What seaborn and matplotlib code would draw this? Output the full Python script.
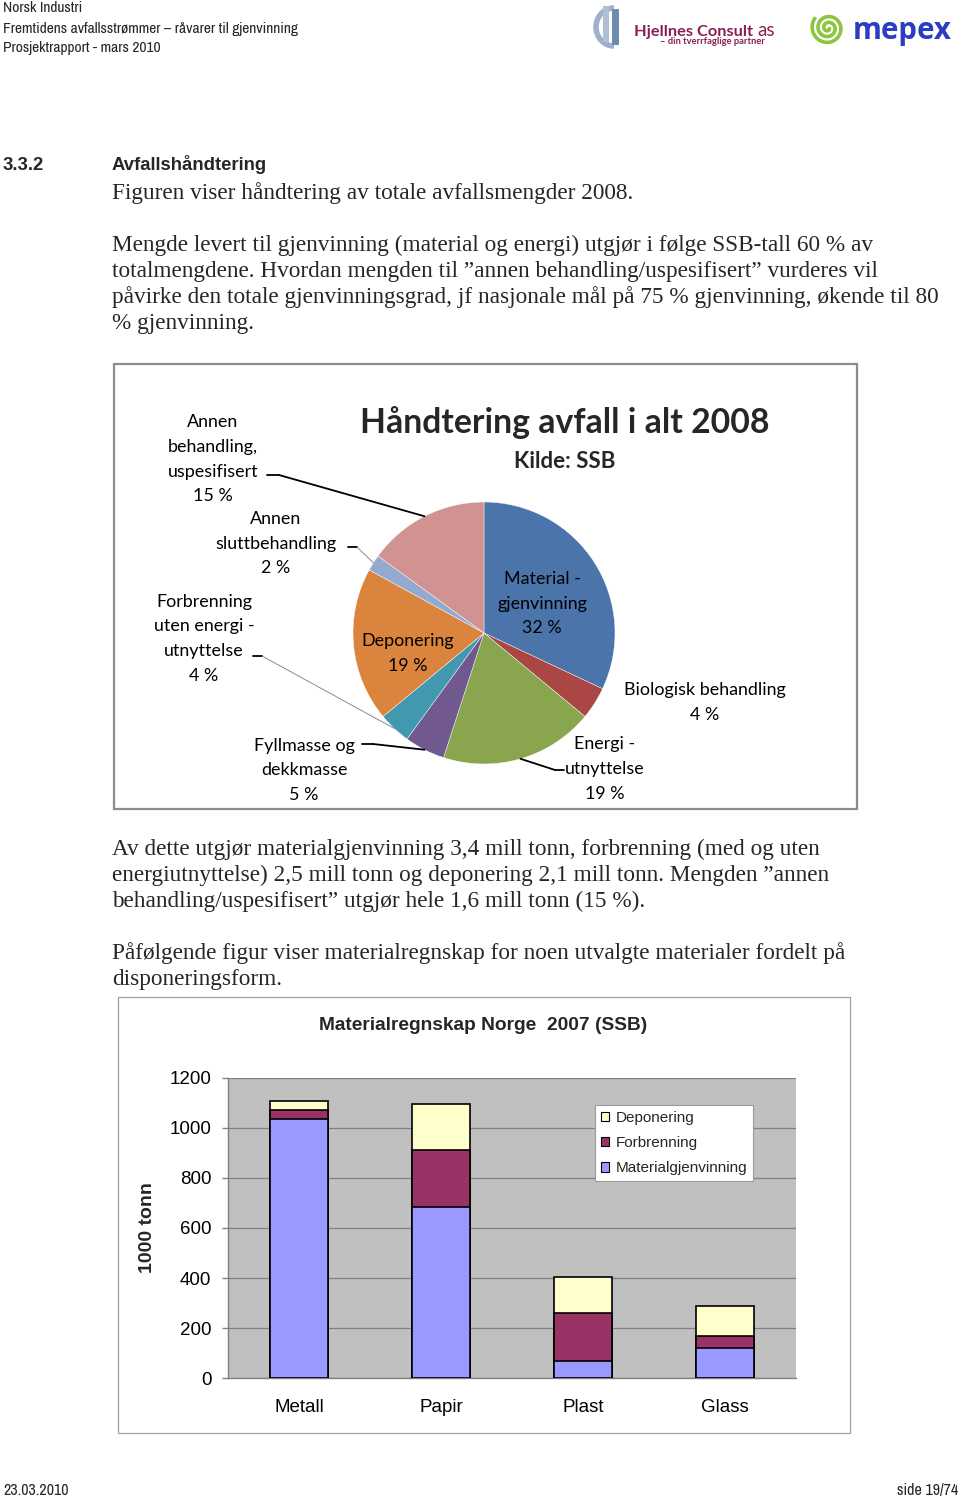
import matplotlib
matplotlib.use("Agg")
import matplotlib.pyplot as plt
from matplotlib import font_manager
from matplotlib.font_manager import FontProperties
from matplotlib.patches import Rectangle, Patch, Arc
import numpy as np
import pandas as pd
import seaborn as sns

# ---------------- data ----------------
header_lines = ["Norsk Industri",
                "Fremtidens avfallsstrømmer – råvarer til gjenvinning",
                "Prosjektrapport - mars 2010"]
section_no = "3.3.2"
section_title = "Avfallshåndtering"
body_top = ["Figuren viser håndtering av totale avfallsmengder 2008.",
            "",
            "Mengde levert til gjenvinning (material og energi) utgjør i følge SSB-tall 60 % av",
            "totalmengdene. Hvordan mengden til ”annen behandling/uspesifisert” vurderes vil",
            "påvirke den totale gjenvinningsgrad, jf nasjonale mål på 75 % gjenvinning, økende til 80",
            "% gjenvinning."]
body_mid = ["Av dette utgjør materialgjenvinning 3,4 mill tonn, forbrenning (med og uten",
            "energiutnyttelse) 2,5 mill tonn og deponering 2,1 mill tonn. Mengden ”annen",
            "behandling/uspesifisert” utgjør hele 1,6 mill tonn (15 %).",
            "",
            "Påfølgende figur viser materialregnskap for noen utvalgte materialer fordelt på",
            "disponeringsform."]
footer_left = "23.03.2010"
footer_right = "side 19/74"

pie_title = "Håndtering avfall i alt 2008"
pie_subtitle = "Kilde: SSB"
pie_labels = ["Material -\ngjenvinning", "Biologisk behandling", "Energi -\nutnyttelse",
              "Fyllmasse og\ndekkmasse", "Forbrenning\nuten energi -\nutnyttelse",
              "Deponering", "Annen\nsluttbehandling", "Annen\nbehandling,\nuspesifisert"]
pie_pct = [32, 4, 19, 5, 4, 19, 2, 15]
pie_colors = ["#4A74AA", "#AA4643", "#89A54E", "#71588F",
              "#4198AF", "#DB843D", "#93A9CF", "#D19392"]

bar_title = "Materialregnskap Norge  2007 (SSB)"
bar_ylabel = "1000 tonn"
materials = ["Metall", "Papir", "Plast", "Glass"]
materialgjenvinning = [1034, 683, 69, 120]
forbrenning = [39, 230, 190, 49]
deponering = [35, 183, 145, 121]
series_names = ["Deponering", "Forbrenning", "Materialgjenvinning"]
series_colors = {"Deponering": "#FFFFCC", "Forbrenning": "#993366",
                 "Materialgjenvinning": "#9999FF"}
yticks = [0, 200, 400, 600, 800, 1000, 1200]

# ---------------- setup ----------------
W, H = 960, 1498
sns.set_style("white")
plt.rcParams["font.family"] = ["Liberation Sans", "DejaVu Sans"]

fig = plt.figure(figsize=(W / 100, H / 100), dpi=100)
fig.patch.set_facecolor("white")
page = fig.add_axes([0, 0, 1, 1], zorder=5)
page.set_xlim(0, W)
page.set_ylim(H, 0)
page.axis("off")
page.patch.set_visible(False)
renderer = fig.canvas.get_renderer()

names = {f.name for f in font_manager.fontManager.ttflist}
SERIF = "Liberation Serif"
CAL = "Lato" if "Lato" in names else "DejaVu Sans"
SANS = "Liberation Sans"


def _weight(f):
    w = f.weight
    if isinstance(w, str):
        w = font_manager.weight_dict.get(w, 400)
    return w


def find_narrow():
    cands = []
    for f in font_manager.fontManager.ttflist:
        nm = f.name
        base = f.fname.split("/")[-1]
        tag = nm + " " + base
        if any(k in tag for k in ("Extra", "Ultra", "Serif", "Mono", "Italic", "Oblique")):
            continue
        if str(f.stretch) in ("extra-condensed", "ultra-condensed"):
            continue
        narrow = ("Narrow" in tag) or ("Condensed" in tag) or \
                 (str(f.stretch) in ("condensed", "semi-condensed"))
        if not narrow or f.style != "normal":
            continue
        if not (350 <= _weight(f) <= 450):
            continue
        if "Liberation" in tag:
            rank = 0
        elif "Narrow" in tag:
            rank = 1
        elif "Semi" in tag:
            rank = 3
        else:
            rank = 2
        cands.append((rank, f.fname))
    cands.sort()
    return cands[0][1] if cands else None


NARROW_REG = find_narrow()


def narrow_fp(size):
    if NARROW_REG:
        return FontProperties(fname=NARROW_REG, size=size)
    return FontProperties(family=SANS, size=size)


def width_px(s, fp):
    t = fig.text(0, 0, s, fontproperties=fp)
    w = t.get_window_extent(renderer).width
    t.remove()
    return w


def fit(s, target, **kw):
    fp = FontProperties(size=20, **kw)
    return 20 * target / width_px(s, fp)


def fit_narrow(s, target, fallback_size, max_size):
    if not NARROW_REG:
        return fallback_size
    return min(20 * target / width_px(s, narrow_fp(20)), max_size)


# ---------------- header ----------------
hsize = fit_narrow(header_lines[1], 308, 10.7, 11.2)
for s, yb in zip(header_lines, [12.5, 33.3, 52.3]):
    page.text(3, yb, s, fontproperties=narrow_fp(hsize), va="baseline", ha="left")

# Hjellnes Consult logo
page.add_patch(Arc((614, 27), 36, 38, theta1=90, theta2=270, lw=4, color="#9FB1C8"))
page.add_patch(Rectangle((603, 6), 6, 36, color="#AFC0D4", lw=0))
page.add_patch(Rectangle((612, 9), 7, 36, color="#6C8CB2", lw=0))
hjs = fit("Hjellnes Consult", 119, family=CAL, weight="bold")
page.text(634, 36, "Hjellnes Consult", family=CAL, weight="bold", fontsize=hjs,
          color="#8A1F55", va="baseline")
page.text(757, 36, "as", family=CAL, fontsize=hjs * 1.15, color="#8A1F55", va="baseline")
page.text(660, 44.5, "– din tverrfaglige partner", family=CAL, weight="bold",
          fontsize=fit("– din tverrfaglige partner", 104, family=CAL, weight="bold"),
          color="#8A1F55", va="baseline")

# mepex logo
th = np.linspace(0.3, 5.2 * np.pi, 300)
rr = 1.2 + 0.93 * th
page.plot(828 + rr * np.cos(th), 28 + rr * np.sin(th), color="#8CC63F", lw=2.6,
          solid_capstyle="round")
page.text(853, 39, "mepex", family="Open Sans", weight="bold",
          fontsize=fit("mepex", 99, family="Open Sans", weight="bold"),
          color="#2B3EC2", va="baseline")

# ---------------- section heading & body ----------------
page.text(3, 170.5, section_no, family=SANS, weight="bold", fontsize=13.3, va="baseline")
page.text(112, 170.5, section_title, family=SANS, weight="bold", fontsize=13.3, va="baseline")

bsize = fit(body_top[4], 829, family=SERIF)
for i, s in enumerate(body_top):
    if s:
        page.text(112, 198.5 + 26 * i, s, family=SERIF, fontsize=bsize, va="baseline")
for i, s in enumerate(body_mid):
    if s:
        page.text(112, 855.5 + 26 * i, s, family=SERIF, fontsize=bsize, va="baseline")

# ---------------- pie chart ----------------
page.add_patch(Rectangle((114, 364), 743, 445, fill=False, edgecolor="#8C8C8C", lw=1.6))

cx, cy, R = 484, 633, 131
half = 160
pax = fig.add_axes([(cx - half) / W, (H - (cy + half)) / H, 2 * half / W, 2 * half / H], zorder=2)
pax.pie(pie_pct, colors=pie_colors, startangle=90, counterclock=False, radius=1,
        wedgeprops=dict(edgecolor="white", linewidth=0.3))
lim = half / R
pax.set_xlim(-lim, lim)
pax.set_ylim(-lim, lim)
pax.axis("off")

tsize = fit(pie_title, 409, family=CAL, weight="bold")
page.text(564.5, 433, pie_title, family=CAL, weight="bold", fontsize=tsize, ha="center", va="baseline")
page.text(565, 468, pie_subtitle, family=CAL, weight="bold",
          fontsize=fit(pie_subtitle, 102, family=CAL, weight="bold"), ha="center", va="baseline")

lsize = fit("sluttbehandling", 121.5, family=CAL)
label_pos = [(542, 584), (705, 695), (605, 749.3), (304, 750.7),
             (204, 606.7), (408, 646), (276, 524), (213, 427.3)]
for lab, pct, (lx, ly) in zip(pie_labels, pie_pct, label_pos):
    lines = lab.split("\n") + [f"{pct} %"]
    for j, s in enumerate(lines):
        page.text(lx, ly + 24.7 * j, s, family=CAL, fontsize=lsize, ha="center",
                  va="baseline", color="black")

# leader lines: from label stub to slice edge at the slice's mid-angle
cum = np.cumsum(pie_pct)
mid_deg = (cum - np.array(pie_pct) / 2) / 100 * 360
edge_pts = [(cx + R * np.sin(np.radians(a)), cy - R * np.cos(np.radians(a))) for a in mid_deg]
stubs = {7: ([(267, 475), (279, 475)], True),
         6: ([(348, 547), (357, 547)], False),
         4: ([(253, 656), (262, 656)], False),
         3: ([(362, 744), (373, 744)], True),
         2: ([(564, 770), (555, 770)], True)}
for idx, (pts, thick) in stubs.items():
    ex, ey = edge_pts[idx]
    page.plot([p[0] for p in pts], [p[1] for p in pts], color="black", lw=1.3)
    page.plot([pts[-1][0], ex], [pts[-1][1], ey], color="black" if thick else "#7A7A7A",
              lw=1.3 if thick else 0.6)

# ---------------- stacked bar chart ----------------
page.add_patch(Rectangle((118, 997), 732, 436, fill=False, edgecolor="#A0A0A0", lw=0.9))
page.text(483.5, 1030, bar_title, family=SANS, weight="bold",
          fontsize=fit(bar_title, 329, family=SANS, weight="bold"), ha="center", va="baseline")

bx0, bx1, by0, by1 = 228, 796, 1077.7, 1378.3
bax = fig.add_axes([bx0 / W, (H - by1) / H, (bx1 - bx0) / W, (by1 - by0) / H], zorder=2)
bax.set_facecolor("#C0C0C0")

df = pd.DataFrame({"Materiale": materials,
                   "Materialgjenvinning": materialgjenvinning,
                   "Forbrenning": forbrenning,
                   "Deponering": deponering})
df["Forbrenning_top"] = df["Materialgjenvinning"] + df["Forbrenning"]
df["Deponering_top"] = df["Forbrenning_top"] + df["Deponering"]
for col, name in [("Deponering_top", "Deponering"),
                  ("Forbrenning_top", "Forbrenning"),
                  ("Materialgjenvinning", "Materialgjenvinning")]:
    sns.barplot(data=df, x="Materiale", y=col, order=materials, color=series_colors[name],
                saturation=1, width=0.406, edgecolor="black", linewidth=1.2,
                errorbar=None, ax=bax, zorder=3)

bax.set_xlim(-0.5, 3.5)
bax.set_ylim(0, 1200)
bax.set_yticks(yticks)
bax.set_axisbelow(True)
bax.yaxis.grid(True, color="#808080", lw=0.9)
bax.xaxis.grid(False)
for sp in ["top", "right"]:
    bax.spines[sp].set_visible(False)
for sp in ["left", "bottom"]:
    bax.spines[sp].set_color("#808080")
    bax.spines[sp].set_linewidth(1.0)
bax.set_xticks([-0.5, 0.5, 1.5, 2.5, 3.5], minor=True)
bax.tick_params(axis="x", which="major", length=0, pad=15, labelsize=13.5, labelcolor="black")
bax.tick_params(axis="x", which="minor", length=3.6, width=1, color="#808080", direction="out")
bax.tick_params(axis="y", which="major", length=4.3, width=1, color="#808080", direction="out",
                pad=7.6, labelsize=13.5, labelcolor="black", left=True)
for t in bax.get_xticklabels() + bax.get_yticklabels():
    t.set_family(SANS)
bax.set_xlabel("")
bax.set_ylabel(bar_ylabel, family=SANS, weight="bold", fontsize=14)
bax.yaxis.set_label_coords((147.5 - bx0) / (bx1 - bx0), 0.5)
bax.yaxis.label.set_verticalalignment("center")

handles = [Patch(facecolor=series_colors[n], edgecolor="black", lw=0.8, label=n) for n in series_names]
leg = bax.legend(handles=handles, loc="upper left",
                 bbox_to_anchor=((595 - bx0) / (bx1 - bx0), (by1 - 1105) / (by1 - by0)),
                 borderaxespad=0, frameon=True, fancybox=False, framealpha=1, shadow=False,
                 edgecolor="#9A9A9A", facecolor="white", prop={"family": SANS, "size": 11},
                 handlelength=0.55, handleheight=0.55, handletextpad=0.4,
                 labelspacing=0.74, borderpad=0.38)
leg.get_frame().set_linewidth(0.8)

# ---------------- footer ----------------
fsize = fit_narrow(footer_left, 66, 11.5, 12)
page.text(3, 1495, footer_left, fontproperties=narrow_fp(fsize), va="baseline")
page.text(958, 1495, footer_right, fontproperties=narrow_fp(fsize), va="baseline", ha="right")

fig.savefig("out.png", dpi=100, facecolor="white")
